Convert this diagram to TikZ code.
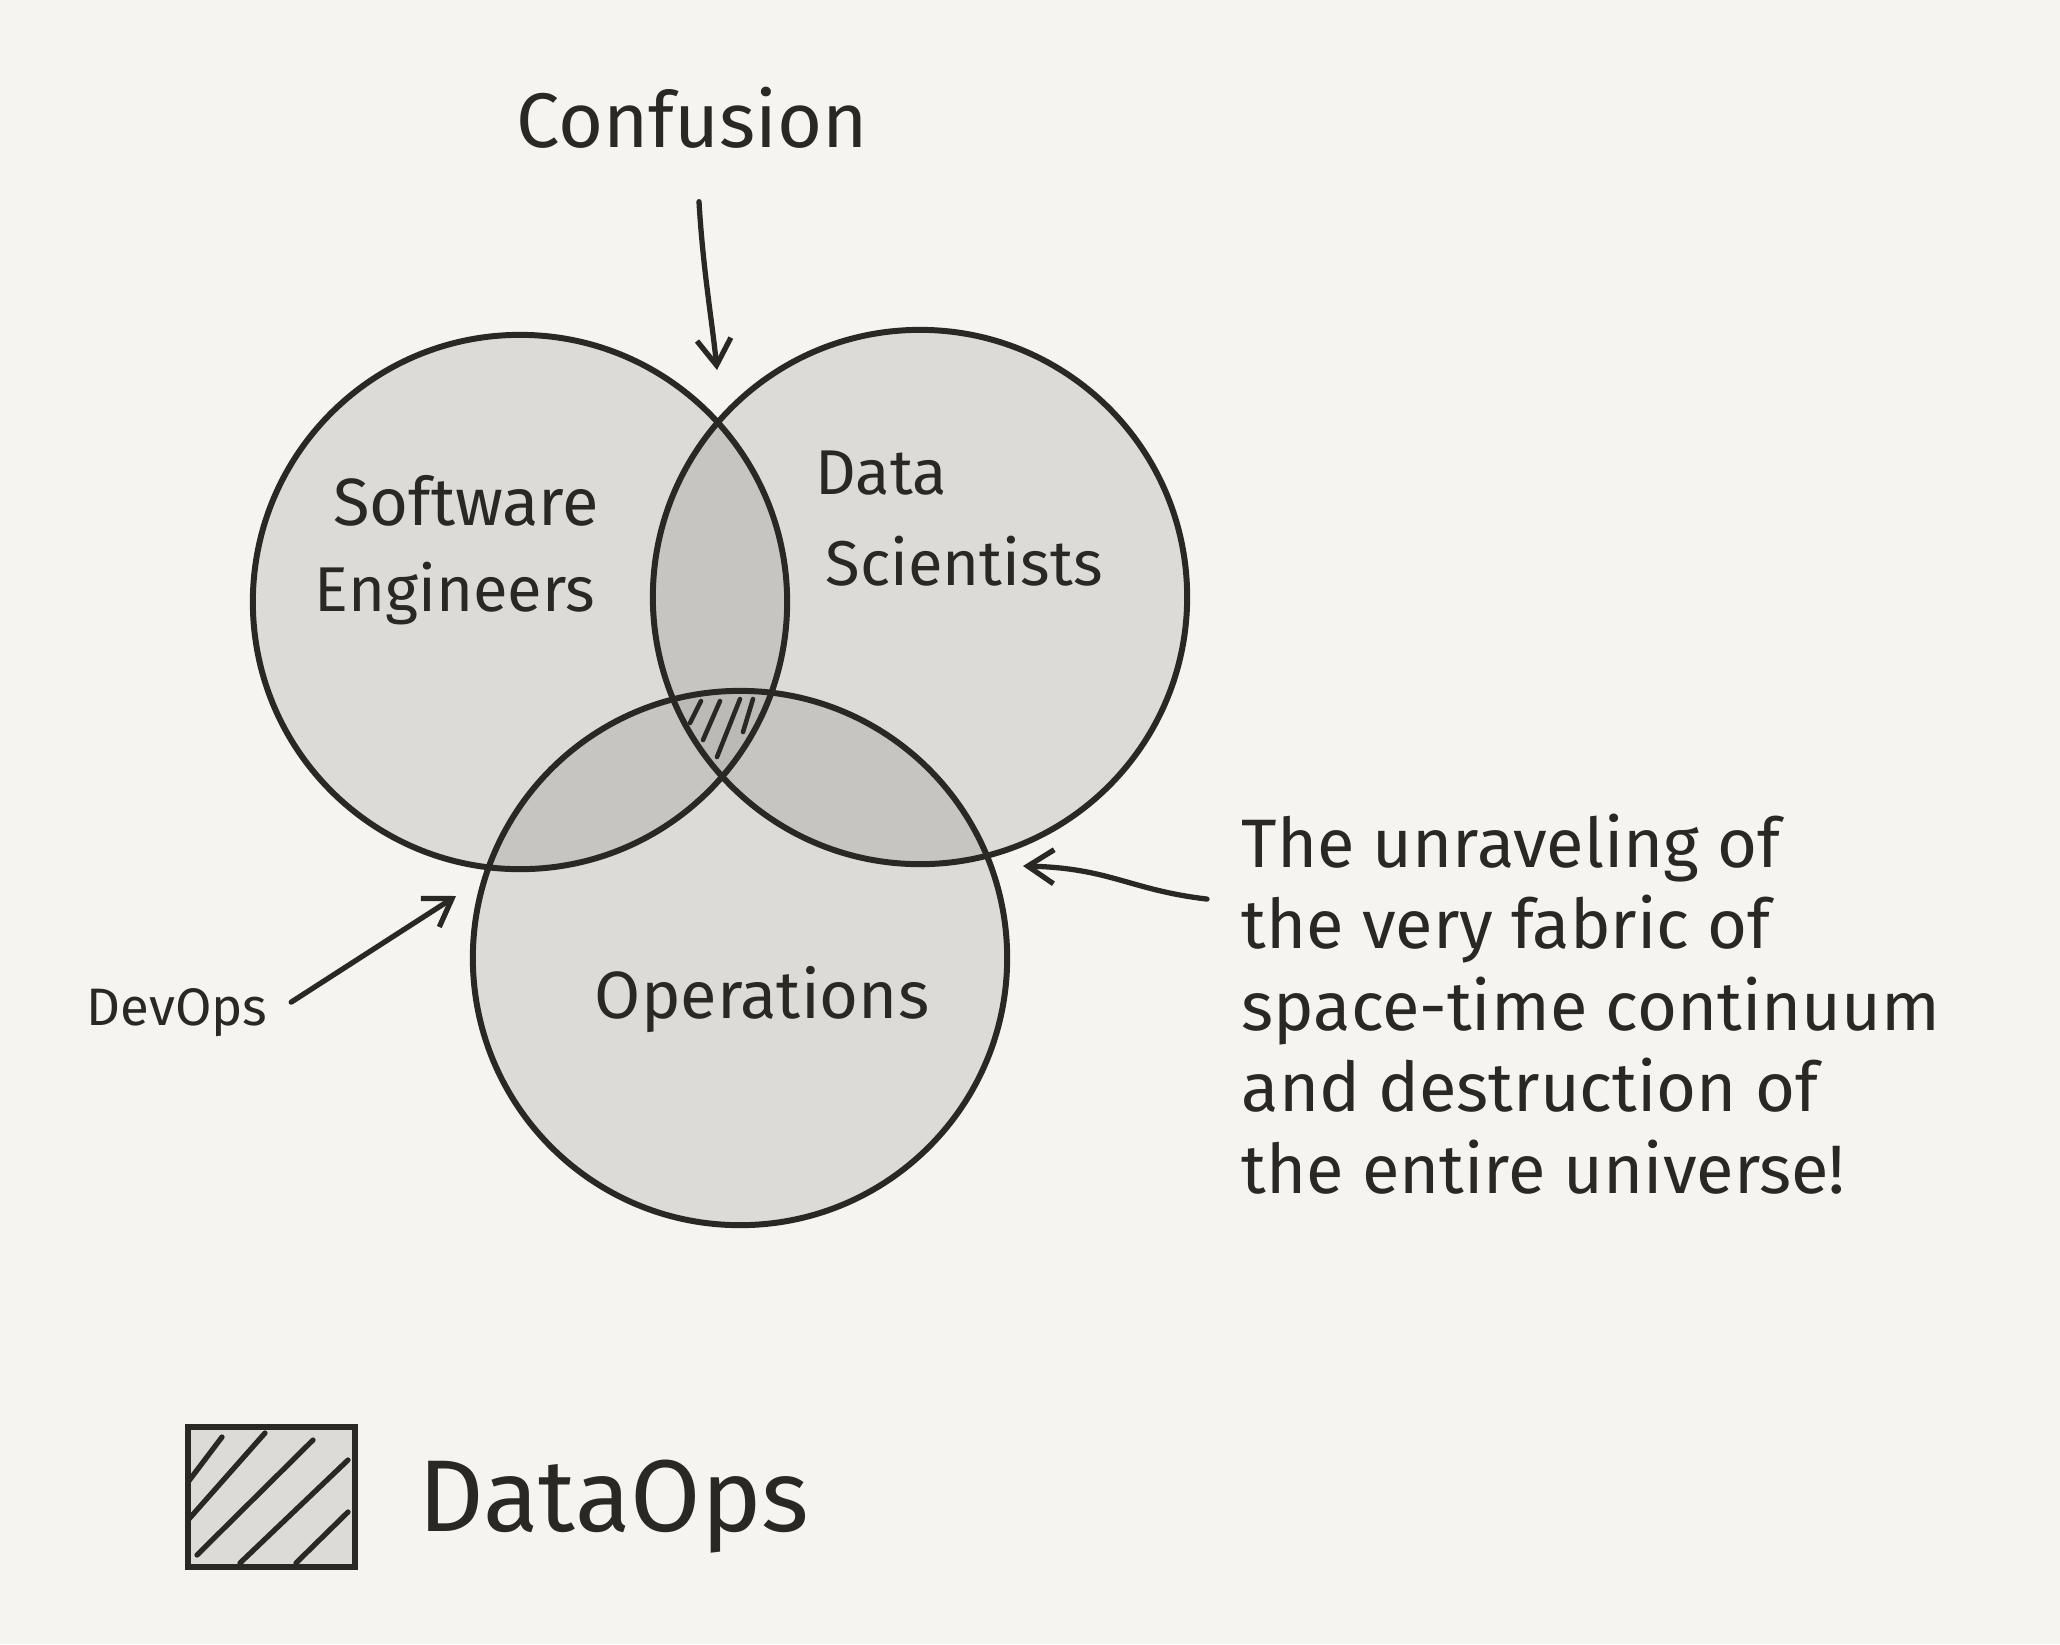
\documentclass[tikz,border=0pt]{standalone}
\usepackage{fontspec}
\setmainfont{Fira Sans}
\usetikzlibrary{arrows.meta}
\definecolor{paper}{HTML}{F5F4F0}
\definecolor{ink}{HTML}{2A2825}
\definecolor{disc}{HTML}{DCDBD7}
\definecolor{pair}{HTML}{C6C5C1}
\definecolor{triple}{HTML}{BBBAB6}
\tikzset{
  pen/.style={draw=ink, line width=1.7pt},
  arr/.style={ink, line width=1.5pt, line cap=round,
    -{Straight Barb[length=2.6mm, width=3.4mm, line width=1.5pt]}},
  hatch/.style={ink, line width=1.3pt, line cap=round},
  lbl/.style={text=ink, inner sep=0pt, font=\fontsize{19}{23.2}\selectfont},
}
\def\rad{2.67cm}
\begin{document}
\begin{tikzpicture}[x=0.01cm, y=-0.01cm]
% paper
\useasboundingbox (0,0) rectangle (2060,1644);
\fill[paper] (0,0) rectangle (2060,1644);
% centres of the three sets
\coordinate (soft) at (520,602);
\coordinate (data) at (920,597);
\coordinate (ops)  at (740,958);
% discs
\fill[disc] (soft) circle[radius=\rad] (data) circle[radius=\rad] (ops) circle[radius=\rad];
% pairwise overlaps
\begin{scope}
  \clip (soft) circle[radius=\rad];
  \fill[pair] (data) circle[radius=\rad] (ops) circle[radius=\rad];
\end{scope}
\begin{scope}
  \clip (data) circle[radius=\rad];
  \fill[pair] (ops) circle[radius=\rad];
\end{scope}
% triple overlap, hatched
\begin{scope}
  \clip (soft) circle[radius=\rad];
  \clip (data) circle[radius=\rad];
  \clip (ops) circle[radius=\rad];
  \fill[triple] (600,650) rectangle (850,800);
  \draw[hatch] (690,723) -- (701,701);
  \draw[hatch] (703,740) -- (720,701);
  \draw[hatch] (717,757) -- (740,699);
  \draw[hatch] (743,732) -- (753,699);
\end{scope}
% outlines
\draw[pen] (soft) circle[radius=\rad];
\draw[pen] (data) circle[radius=\rad];
\draw[pen] (ops) circle[radius=\rad];
% set labels
\node[lbl, anchor=base] (software) at (466,525) {Software};
\node[lbl, anchor=base, font=\fontsize{18}{22}\selectfont] (engineers) at (455,611) {Engineers};
\node[lbl, anchor=base west, font=\fontsize{18}{22}\selectfont] (dataword) at (815,494) {Data};
\node[lbl, anchor=base west, font=\fontsize{18}{22}\selectfont] (scientists) at (825,585) {Scientists};
\node[lbl, anchor=base] (operations) at (762,1018) {Operations};
% callouts
\node[lbl, anchor=base, font=\fontsize{22}{26}\selectfont] (confusion) at (692,147) {Confusion};
\node[lbl, anchor=base, font=\fontsize{15}{18}\selectfont] (devops) at (177,1025) {DevOps};
\node[lbl, anchor=north west, align=left, font=\fontsize{19.5}{23.2}\selectfont] (unravel) at (1241,813)
  {The unraveling of\\the very fabric of\\space-time continuum\\and destruction of\\the entire universe!};
\coordinate (confTip) at (717,370);
\coordinate (devTip) at (456,896);
\coordinate (opsTip) at (1023,866);
\draw[arr] ([xshift=0.7mm, yshift=-5.3mm]confusion.south) .. controls (703,270) and (712,320) .. (confTip);
\draw[arr] ([xshift=2.3mm, yshift=1mm]devops.east) -- (devTip);
\draw[arr] ([xshift=-3.4mm, yshift=-8.6mm]unravel.north west) .. controls (1130,890) and (1110,868) .. (opsTip);
% legend
\filldraw[fill=disc, pen] (188,1427) rectangle (355,1567);
\begin{scope}
  \clip (188,1427) rectangle (355,1567);
  \draw[hatch, line width=1.5pt] (188,1482) -- (222,1437);
  \draw[hatch, line width=1.5pt] (188,1520) -- (265,1433);
  \draw[hatch, line width=1.5pt] (197,1555) -- (313,1440);
  \draw[hatch, line width=1.5pt] (240,1563) -- (348,1460);
  \draw[hatch, line width=1.5pt] (296,1563) -- (348,1512);
\end{scope}
\node[lbl, anchor=base west, font=\fontsize{29}{34}\selectfont] (dataops) at (418,1531) {DataOps};
\end{tikzpicture}
\end{document}
